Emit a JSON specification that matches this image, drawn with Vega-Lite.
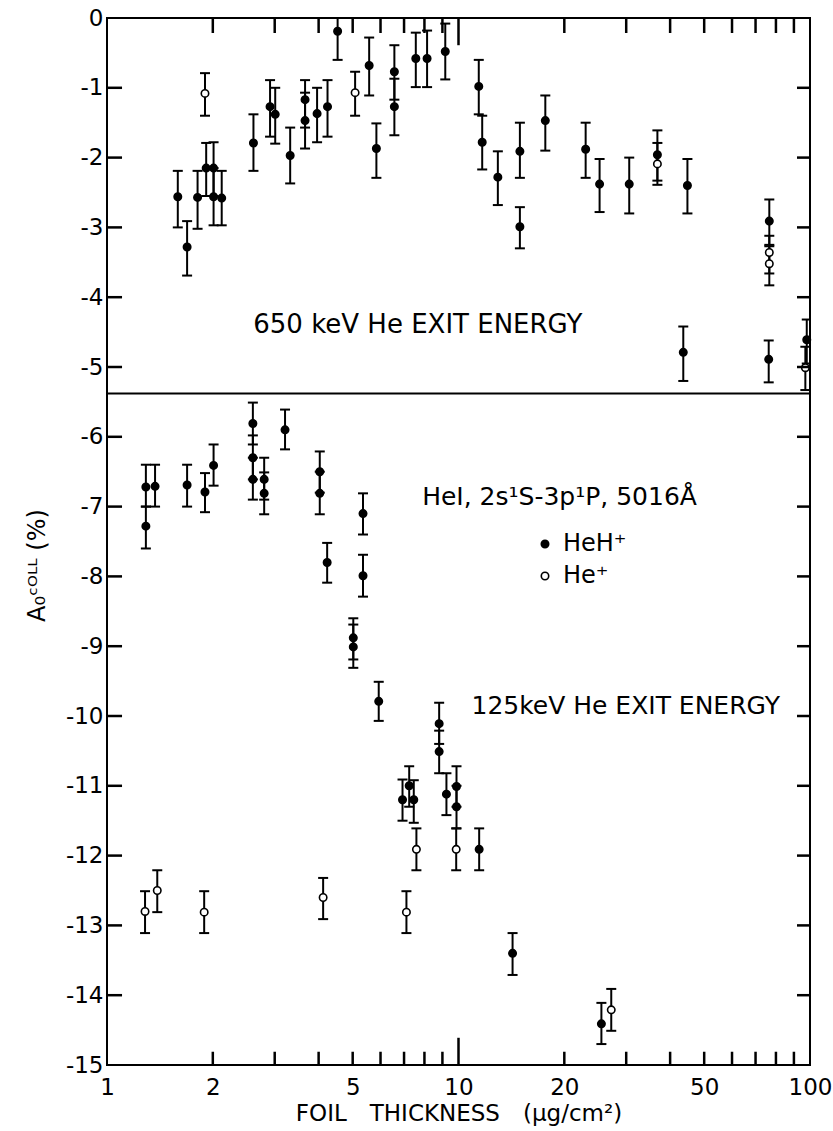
{
  "$schema": "https://vega.github.io/schema/vega-lite/v6.json",
  "width": 703,
  "height": 1047,
  "autosize": {"type": "none"},
  "padding": {"left": 107, "top": 18, "right": 23, "bottom": 66},
  "background": "white",
  "config": {
    "view": {"stroke": "black", "strokeWidth": 2},
    "font": "DejaVu Sans",
    "axis": {"domain": false, "ticks": false, "tickSize": 0, "grid": false, "labelColor": "black", "titleColor": "black", "titleFontWeight": "normal", "labelFont": "DejaVu Sans", "titleFont": "DejaVu Sans"}
  },
  "datasets": {
    "xticks": [
      {"v":2,"a":-15,"b":-14.81},{"v":3,"a":-15,"b":-14.81},{"v":4,"a":-15,"b":-14.81},{"v":5,"a":-15,"b":-14.81},{"v":6,"a":-15,"b":-14.81},{"v":7,"a":-15,"b":-14.81},{"v":8,"a":-15,"b":-14.81},{"v":9,"a":-15,"b":-14.81},{"v":10,"a":-15,"b":-14.61},
      {"v":20,"a":-15,"b":-14.81},{"v":30,"a":-15,"b":-14.81},{"v":40,"a":-15,"b":-14.81},{"v":50,"a":-15,"b":-14.81},{"v":60,"a":-15,"b":-14.81},{"v":70,"a":-15,"b":-14.81},{"v":80,"a":-15,"b":-14.81},{"v":90,"a":-15,"b":-14.81},
      {"v":2,"a":0,"b":-0.215},{"v":3,"a":0,"b":-0.215},{"v":4,"a":0,"b":-0.215},{"v":5,"a":0,"b":-0.215},{"v":6,"a":0,"b":-0.215},{"v":7,"a":0,"b":-0.215},{"v":8,"a":0,"b":-0.215},{"v":9,"a":0,"b":-0.215},{"v":10,"a":0,"b":-0.39},
      {"v":20,"a":0,"b":-0.215},{"v":30,"a":0,"b":-0.215},{"v":40,"a":0,"b":-0.215},{"v":50,"a":0,"b":-0.215},{"v":60,"a":0,"b":-0.215},{"v":70,"a":0,"b":-0.215},{"v":80,"a":0,"b":-0.215},{"v":90,"a":0,"b":-0.215}
    ],
    "yticks": [
      {"v":-1,"a":1,"b":1.1035},{"v":-2,"a":1,"b":1.1035},{"v":-3,"a":1,"b":1.1035},{"v":-4,"a":1,"b":1.1035},{"v":-5,"a":1,"b":1.1035},{"v":-6,"a":1,"b":1.1035},{"v":-7,"a":1,"b":1.1035},
      {"v":-8,"a":1,"b":1.1035},{"v":-9,"a":1,"b":1.1035},{"v":-10,"a":1,"b":1.1035},{"v":-11,"a":1,"b":1.1035},{"v":-12,"a":1,"b":1.1035},{"v":-13,"a":1,"b":1.1035},{"v":-14,"a":1,"b":1.1035},
      {"v":-1,"a":100,"b":91.82},{"v":-2,"a":100,"b":91.82},{"v":-3,"a":100,"b":91.82},{"v":-4,"a":100,"b":91.82},{"v":-5,"a":100,"b":91.82},{"v":-6,"a":100,"b":91.82},{"v":-7,"a":100,"b":91.82},
      {"v":-8,"a":100,"b":91.82},{"v":-9,"a":100,"b":91.82},{"v":-10,"a":100,"b":91.82},{"v":-11,"a":100,"b":91.82},{"v":-12,"a":100,"b":91.82},{"v":-13,"a":100,"b":91.82},{"v":-14,"a":100,"b":91.82}
    ],
    "pts": [
      {"x":1.59,"y":-2.56,"lo":-3.0,"hi":-2.19,"s":"HeH⁺"},
      {"x":1.69,"y":-3.28,"lo":-3.69,"hi":-2.91,"s":"HeH⁺"},
      {"x":1.81,"y":-2.57,"lo":-3.02,"hi":-2.19,"s":"HeH⁺"},
      {"x":1.915,"y":-2.15,"lo":-2.55,"hi":-1.79,"s":"HeH⁺"},
      {"x":2.01,"y":-2.15,"lo":-2.55,"hi":-1.78,"s":"HeH⁺"},
      {"x":2.01,"y":-2.56,"lo":-2.97,"hi":-2.15,"s":"HeH⁺"},
      {"x":2.12,"y":-2.58,"lo":-2.97,"hi":-2.19,"s":"HeH⁺"},
      {"x":2.61,"y":-1.79,"lo":-2.19,"hi":-1.38,"s":"HeH⁺"},
      {"x":2.91,"y":-1.27,"lo":-1.70,"hi":-0.89,"s":"HeH⁺"},
      {"x":3.01,"y":-1.38,"lo":-1.80,"hi":-1.0,"s":"HeH⁺"},
      {"x":3.32,"y":-1.97,"lo":-2.37,"hi":-1.57,"s":"HeH⁺"},
      {"x":3.66,"y":-1.17,"lo":-1.57,"hi":-0.89,"s":"HeH⁺"},
      {"x":3.66,"y":-1.47,"lo":-1.87,"hi":-1.07,"s":"HeH⁺"},
      {"x":3.96,"y":-1.37,"lo":-1.78,"hi":-1.0,"s":"HeH⁺"},
      {"x":4.24,"y":-1.27,"lo":-1.70,"hi":-0.89,"s":"HeH⁺"},
      {"x":4.53,"y":-0.19,"lo":-0.60,"hi":0.21,"s":"HeH⁺"},
      {"x":5.57,"y":-0.68,"lo":-1.11,"hi":-0.28,"s":"HeH⁺"},
      {"x":5.84,"y":-1.87,"lo":-2.29,"hi":-1.51,"s":"HeH⁺"},
      {"x":6.57,"y":-0.77,"lo":-1.17,"hi":-0.39,"s":"HeH⁺"},
      {"x":6.57,"y":-1.27,"lo":-1.68,"hi":-0.87,"s":"HeH⁺"},
      {"x":7.56,"y":-0.58,"lo":-0.99,"hi":-0.21,"s":"HeH⁺"},
      {"x":8.14,"y":-0.58,"lo":-0.99,"hi":-0.18,"s":"HeH⁺"},
      {"x":9.17,"y":-0.48,"lo":-0.88,"hi":-0.08,"s":"HeH⁺"},
      {"x":11.42,"y":-0.98,"lo":-1.38,"hi":-0.60,"s":"HeH⁺"},
      {"x":11.68,"y":-1.78,"lo":-2.17,"hi":-1.40,"s":"HeH⁺"},
      {"x":12.94,"y":-2.28,"lo":-2.68,"hi":-1.91,"s":"HeH⁺"},
      {"x":14.95,"y":-1.91,"lo":-2.29,"hi":-1.50,"s":"HeH⁺"},
      {"x":14.95,"y":-2.99,"lo":-3.30,"hi":-2.71,"s":"HeH⁺"},
      {"x":17.66,"y":-1.47,"lo":-1.90,"hi":-1.11,"s":"HeH⁺"},
      {"x":23.0,"y":-1.88,"lo":-2.29,"hi":-1.50,"s":"HeH⁺"},
      {"x":25.2,"y":-2.38,"lo":-2.78,"hi":-2.02,"s":"HeH⁺"},
      {"x":30.6,"y":-2.38,"lo":-2.80,"hi":-2.0,"s":"HeH⁺"},
      {"x":36.8,"y":-1.96,"lo":-2.33,"hi":-1.61,"s":"HeH⁺"},
      {"x":44.8,"y":-2.40,"lo":-2.80,"hi":-2.02,"s":"HeH⁺"},
      {"x":43.6,"y":-4.79,"lo":-5.20,"hi":-4.42,"s":"HeH⁺"},
      {"x":76.6,"y":-2.91,"lo":-3.25,"hi":-2.60,"s":"HeH⁺"},
      {"x":76.3,"y":-4.89,"lo":-5.22,"hi":-4.62,"s":"HeH⁺"},
      {"x":97.9,"y":-4.61,"lo":-4.95,"hi":-4.32,"s":"HeH⁺"},
      {"x":1.29,"y":-7.28,"lo":-7.60,"hi":-7.0,"s":"HeH⁺"},
      {"x":1.29,"y":-6.72,"lo":-7.0,"hi":-6.40,"s":"HeH⁺"},
      {"x":1.37,"y":-6.71,"lo":-7.0,"hi":-6.40,"s":"HeH⁺"},
      {"x":1.69,"y":-6.69,"lo":-7.0,"hi":-6.40,"s":"HeH⁺"},
      {"x":1.90,"y":-6.79,"lo":-7.08,"hi":-6.52,"s":"HeH⁺"},
      {"x":2.01,"y":-6.41,"lo":-6.70,"hi":-6.11,"s":"HeH⁺"},
      {"x":2.60,"y":-5.81,"lo":-6.11,"hi":-5.51,"s":"HeH⁺"},
      {"x":2.60,"y":-6.30,"lo":-6.61,"hi":-5.98,"s":"HeH⁺"},
      {"x":2.60,"y":-6.61,"lo":-6.90,"hi":-6.30,"s":"HeH⁺"},
      {"x":2.80,"y":-6.61,"lo":-6.90,"hi":-6.30,"s":"HeH⁺"},
      {"x":2.80,"y":-6.81,"lo":-7.11,"hi":-6.51,"s":"HeH⁺"},
      {"x":3.21,"y":-5.90,"lo":-6.18,"hi":-5.61,"s":"HeH⁺"},
      {"x":4.03,"y":-6.50,"lo":-6.80,"hi":-6.21,"s":"HeH⁺"},
      {"x":4.03,"y":-6.81,"lo":-7.11,"hi":-6.50,"s":"HeH⁺"},
      {"x":4.23,"y":-7.80,"lo":-8.09,"hi":-7.52,"s":"HeH⁺"},
      {"x":5.35,"y":-7.10,"lo":-7.40,"hi":-6.81,"s":"HeH⁺"},
      {"x":5.35,"y":-7.99,"lo":-8.29,"hi":-7.69,"s":"HeH⁺"},
      {"x":5.02,"y":-8.88,"lo":-9.19,"hi":-8.60,"s":"HeH⁺"},
      {"x":5.02,"y":-9.01,"lo":-9.31,"hi":-8.69,"s":"HeH⁺"},
      {"x":5.93,"y":-9.79,"lo":-10.07,"hi":-9.51,"s":"HeH⁺"},
      {"x":8.81,"y":-10.11,"lo":-10.40,"hi":-9.81,"s":"HeH⁺"},
      {"x":8.81,"y":-10.51,"lo":-10.82,"hi":-10.21,"s":"HeH⁺"},
      {"x":6.93,"y":-11.20,"lo":-11.50,"hi":-10.91,"s":"HeH⁺"},
      {"x":7.24,"y":-11.00,"lo":-11.30,"hi":-10.72,"s":"HeH⁺"},
      {"x":7.46,"y":-11.20,"lo":-11.53,"hi":-10.92,"s":"HeH⁺"},
      {"x":9.24,"y":-11.12,"lo":-11.42,"hi":-10.82,"s":"HeH⁺"},
      {"x":9.87,"y":-11.01,"lo":-11.30,"hi":-10.72,"s":"HeH⁺"},
      {"x":9.87,"y":-11.30,"lo":-11.61,"hi":-11.0,"s":"HeH⁺"},
      {"x":11.45,"y":-11.91,"lo":-12.21,"hi":-11.61,"s":"HeH⁺"},
      {"x":14.25,"y":-13.40,"lo":-13.71,"hi":-13.11,"s":"HeH⁺"},
      {"x":25.5,"y":-14.41,"lo":-14.70,"hi":-14.11,"s":"HeH⁺"},
      {"x":1.90,"y":-1.08,"lo":-1.40,"hi":-0.79,"s":"He⁺"},
      {"x":5.08,"y":-1.07,"lo":-1.40,"hi":-0.77,"s":"He⁺"},
      {"x":36.8,"y":-2.09,"lo":-2.39,"hi":-1.79,"s":"He⁺"},
      {"x":76.6,"y":-3.36,"lo":-3.66,"hi":-3.12,"s":"He⁺"},
      {"x":76.6,"y":-3.52,"lo":-3.83,"hi":-3.27,"s":"He⁺"},
      {"x":97.0,"y":-5.01,"lo":-5.33,"hi":-4.71,"s":"He⁺"},
      {"x":1.283,"y":-12.80,"lo":-13.11,"hi":-12.51,"s":"He⁺"},
      {"x":1.39,"y":-12.50,"lo":-12.81,"hi":-12.21,"s":"He⁺"},
      {"x":1.89,"y":-12.81,"lo":-13.11,"hi":-12.51,"s":"He⁺"},
      {"x":4.12,"y":-12.60,"lo":-12.91,"hi":-12.32,"s":"He⁺"},
      {"x":7.11,"y":-12.81,"lo":-13.11,"hi":-12.51,"s":"He⁺"},
      {"x":7.59,"y":-11.91,"lo":-12.21,"hi":-11.61,"s":"He⁺"},
      {"x":9.85,"y":-11.91,"lo":-12.21,"hi":-11.61,"s":"He⁺"},
      {"x":27.2,"y":-14.21,"lo":-14.51,"hi":-13.91,"s":"He⁺"}
    ]
  },
  "layer": [
    {
      "data": {"name": "pts"},
      "mark": {"type": "rule", "color": "black", "strokeWidth": 2, "clip": true},
      "encoding": {
        "x": {"field": "x", "type": "quantitative", "scale": {"type": "log", "domain": [1, 100]},
          "axis": {"orient": "bottom", "values": [1,2,5,10,20,50,100],
            "labelPadding": 11,
            "labelExpr": "'' + datum.value",
            "labelFontSize": 23, "labelFlush": false, "labelOverlap": false,
            "title": "FOIL\u2002\u2002THICKNESS\u2002\u2002(μg/cm²)", "titleFontSize": 23, "titleY": 48, "titleBaseline": "middle"}},
        "y": {"field": "lo", "type": "quantitative", "scale": {"domain": [-15, 0], "nice": false, "zero": false},
          "axis": {"orient": "left", "values": [0,-1,-2,-3,-4,-5,-6,-7,-8,-9,-10,-11,-12,-13,-14,-15],
            "labelPadding": 4, "labelFontSize": 23, "labelFlush": false, "labelOverlap": false,
            "labelExpr": "datum.value == 0 ? '0' : '-' + abs(datum.value)",
            "title": "A₀ᶜᴼᴸᴸ (%)", "titleFontSize": 24, "titleX": -70, "titleY": 547, "titleAlign": "center", "titleBaseline": "middle"}},
        "y2": {"field": "hi"}
      }
    },
    {
      "data": {"name": "pts"},
      "mark": {"type": "tick", "orient": "horizontal", "color": "black", "size": 10, "thickness": 2, "clip": true, "opacity": 1},
      "encoding": {
        "x": {"field": "x", "type": "quantitative", "scale": {"type": "log", "domain": [1, 100]}},
        "y": {"field": "lo", "type": "quantitative", "scale": {"domain": [-15, 0], "nice": false, "zero": false}}
      }
    },
    {
      "data": {"name": "pts"},
      "mark": {"type": "tick", "orient": "horizontal", "color": "black", "size": 10, "thickness": 2, "clip": true, "opacity": 1},
      "encoding": {
        "x": {"field": "x", "type": "quantitative", "scale": {"type": "log", "domain": [1, 100]}},
        "y": {"field": "hi", "type": "quantitative", "scale": {"domain": [-15, 0], "nice": false, "zero": false}}
      }
    },
    {
      "data": {"name": "pts"},
      "mark": {"type": "point", "shape": "circle", "filled": true, "stroke": "black", "strokeWidth": 1.6, "size": 55, "opacity": 1},
      "encoding": {
        "x": {"field": "x", "type": "quantitative", "scale": {"type": "log", "domain": [1, 100]}},
        "y": {"field": "y", "type": "quantitative", "scale": {"domain": [-15, 0], "nice": false, "zero": false}},
        "fill": {"field": "s", "type": "nominal", "scale": {"domain": ["HeH⁺", "He⁺"], "range": ["black", "white"]},
          "legend": {"orient": "none", "legendX": 426, "legendY": 514, "title": null, "padding": 0,
            "labelFontSize": 24, "labelColor": "black", "labelFont": "DejaVu Sans", "labelOffset": 6,
            "symbolType": "circle", "symbolSize": 55, "symbolStrokeColor": "black", "symbolStrokeWidth": 1.6, "symbolOpacity": 1,
            "rowPadding": 8}}
      }
    },
    {
      "data": {"values": [{"x": 7.66, "y": -4.52, "t": "650 keV He EXIT ENERGY"}]},
      "mark": {"type": "text", "align": "center", "baseline": "alphabetic", "fontSize": 26, "color": "black"},
      "encoding": {
        "x": {"field": "x", "type": "quantitative", "scale": {"type": "log", "domain": [1, 100]}},
        "y": {"field": "y", "type": "quantitative", "scale": {"domain": [-15, 0], "nice": false, "zero": false}},
        "text": {"field": "t"}
      }
    },
    {
      "data": {"values": [{"x": 29.9, "y": -9.97, "t": "125keV He EXIT ENERGY"}]},
      "mark": {"type": "text", "align": "center", "baseline": "alphabetic", "fontSize": 25, "color": "black"},
      "encoding": {
        "x": {"field": "x", "type": "quantitative", "scale": {"type": "log", "domain": [1, 100]}},
        "y": {"field": "y", "type": "quantitative", "scale": {"domain": [-15, 0], "nice": false, "zero": false}},
        "text": {"field": "t"}
      }
    },
    {
      "data": {"values": [{"x": 7.88, "y": -6.98, "t": "HeI, 2s¹S-3p¹P, 5016Å"}]},
      "mark": {"type": "text", "align": "left", "baseline": "alphabetic", "fontSize": 25, "color": "black"},
      "encoding": {
        "x": {"field": "x", "type": "quantitative", "scale": {"type": "log", "domain": [1, 100]}},
        "y": {"field": "y", "type": "quantitative", "scale": {"domain": [-15, 0], "nice": false, "zero": false}},
        "text": {"field": "t"}
      }
    },
    {
      "data": {"values": [{"y": -5.38}]},
      "mark": {"type": "rule", "color": "black", "strokeWidth": 2},
      "encoding": {
        "y": {"field": "y", "type": "quantitative", "scale": {"domain": [-15, 0], "nice": false, "zero": false}}
      }
    },
    {
      "data": {"name": "xticks"},
      "mark": {"type": "rule", "color": "black", "strokeWidth": 2.5},
      "encoding": {
        "x": {"field": "v", "type": "quantitative", "scale": {"type": "log", "domain": [1, 100]}},
        "y": {"field": "a", "type": "quantitative", "scale": {"domain": [-15, 0], "nice": false, "zero": false}},
        "y2": {"field": "b"}
      }
    },
    {
      "data": {"name": "yticks"},
      "mark": {"type": "rule", "color": "black", "strokeWidth": 2.5},
      "encoding": {
        "y": {"field": "v", "type": "quantitative", "scale": {"domain": [-15, 0], "nice": false, "zero": false}},
        "x": {"field": "a", "type": "quantitative", "scale": {"type": "log", "domain": [1, 100]}},
        "x2": {"field": "b"}
      }
    }
  ]
}
